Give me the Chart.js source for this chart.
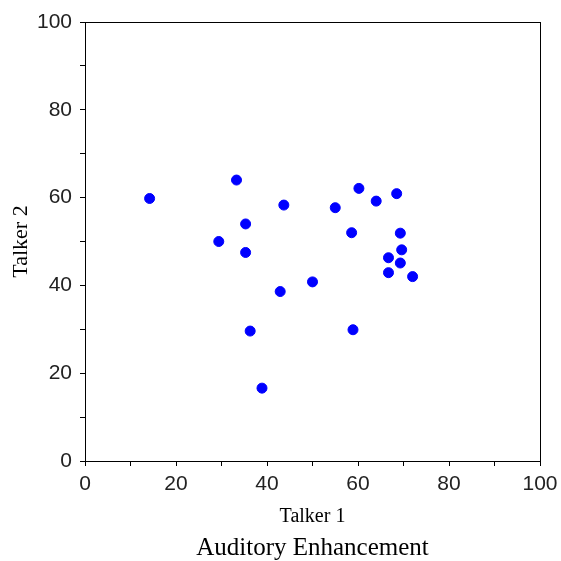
<!DOCTYPE html>
<html>
<head>
<meta charset="utf-8">
<script src="https://cdn.jsdelivr.net/npm/chart.js@4.4.0/dist/chart.umd.min.js"></script>
<style>
  body { margin: 0; background: #fff; }
</style>
</head>
<body>
<canvas id="scatterChart" width="561" height="561"></canvas>
<script>
const talker1 = [14.2, 33.3, 43.7, 35.3, 29.4, 35.3, 50.0, 42.9, 36.3, 58.9, 38.9,
  60.2, 55.0, 64.0, 68.5, 58.6, 69.3, 69.6, 66.7, 69.3, 66.7, 72.0];
const talker2 = [59.8, 64.0, 58.3, 54.0, 50.0, 47.5, 40.8, 38.6, 29.6, 29.9, 16.6,
  62.1, 57.7, 59.2, 60.9, 52.0, 51.9, 48.1, 46.3, 45.1, 42.9, 42.0];
const majorTicks = [0, 20, 40, 60, 80, 100];

const points = talker1.map((x, i) => ({ x: x, y: talker2[i] }));

const tickLabel = (v) => (majorTicks.includes(v) ? String(v) : "");

// plain box round the plot area
const frame = {
  id: "frame",
  afterDraw(chart) {
    const { ctx, chartArea: a } = chart;
    ctx.save();
    ctx.strokeStyle = "#000";
    ctx.lineWidth = 1;
    ctx.strokeRect(Math.round(a.left) + 0.5, Math.round(a.top) + 0.5,
      Math.round(a.right - a.left), Math.round(a.bottom - a.top));
    ctx.restore();
  },
};

const ctx = document.getElementById("scatterChart").getContext("2d");
new Chart(ctx, {
  type: "scatter",
  data: {
    datasets: [
      {
        data: points,
        backgroundColor: "#0000ff",
        borderColor: "#0000ff",
        pointRadius: 5,
        borderWidth: 1,
      },
    ],
  },
  options: {
    responsive: false,
    animation: false,
    layout: {
      padding: { left: 0, right: 21, top: 22, bottom: 0 },
    },
    plugins: {
      legend: { display: false },
      tooltip: { enabled: false },
      title: {
        display: true,
        position: "bottom",
        fullSize: false,
        text: "Auditory Enhancement",
        color: "#000",
        font: { family: "Liberation Serif", size: 25, weight: "normal", lineHeight: 1 },
        padding: { top: 0, bottom: 0 },
      },
    },
    scales: {
      x: {
        type: "linear",
        min: 0,
        max: 100,
        border: { display: true, color: "#000", width: 1 },
        grid: { drawOnChartArea: false, drawTicks: true, tickLength: 5, tickColor: "#000" },
        ticks: {
          stepSize: 10,
          autoSkip: false,
          maxRotation: 0,
          padding: 6,
          color: "#222",
          font: { family: "Liberation Sans", size: 21 },
          callback: tickLabel,
        },
        title: {
          display: true,
          text: "Talker 1",
          color: "#000",
          font: { family: "Liberation Serif", size: 20 },
          padding: { top: 0, bottom: 7.5 },
        },
        afterFit(scale) {
          scale.height = 75;
          scale.paddingLeft = 0;
          scale.paddingRight = 0;
        },
      },
      y: {
        type: "linear",
        min: 0,
        max: 100,
        border: { display: true, color: "#000", width: 1 },
        grid: { drawOnChartArea: false, drawTicks: true, tickLength: 5, tickColor: "#000" },
        ticks: {
          stepSize: 10,
          autoSkip: false,
          padding: 8,
          color: "#222",
          font: { family: "Liberation Sans", size: 21 },
          callback: tickLabel,
        },
        title: {
          display: true,
          text: "Talker 2",
          color: "#000",
          font: { family: "Liberation Serif", size: 22 },
          padding: { top: 8, bottom: 0 },
        },
        afterFit(scale) {
          scale.width = 85;
          scale.paddingTop = 0;
          scale.paddingBottom = 0;
        },
      },
    },
  },
  plugins: [frame],
});
</script>
</body>
</html>
